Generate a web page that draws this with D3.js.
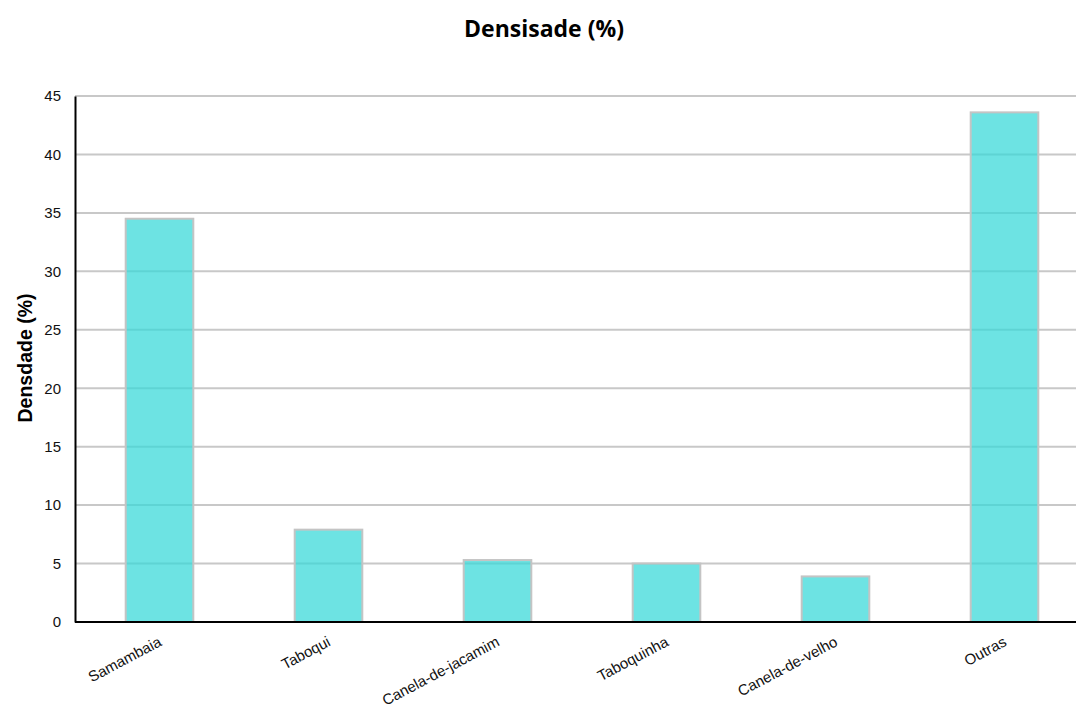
<!DOCTYPE html>
<html><head><meta charset="utf-8">
<script src="https://cdn.jsdelivr.net/npm/d3@7"></script>
<style>body{margin:0;background:#fff;}svg{display:block;}</style>
</head><body>
<svg id="c" width="1076" height="708"></svg>
<script>
const categories = ["Samambaia","Taboqui","Canela-de-jacamim","Taboquinha","Canela-de-velho","Outras"];
const values = [34.5, 7.9, 5.3, 5.0, 3.9, 43.6];
const yTicks = [0,5,10,15,20,25,30,35,40,45];

(function(){
const svg = d3.select("#c");
const mL = 75, mR = 1089, mT = 96, mB = 622;
const x = d3.scaleBand().domain(categories).range([mL, mR]).paddingInner(0.6).paddingOuter(0.3);
const y = d3.scaleLinear().domain([0,45]).range([mB, mT]);

// gridlines
svg.append("g").selectAll("line").data(yTicks.filter(d=>d>0)).join("line")
  .attr("x1", mL).attr("x2", 1076).attr("y1", d=>y(d)).attr("y2", d=>y(d))
  .attr("stroke", "#c8c8c8").attr("stroke-width", 2);

// bars
svg.append("g").selectAll("rect").data(values).join("rect")
  .attr("x", (d,i)=>x(categories[i]))
  .attr("width", x.bandwidth())
  .attr("y", d=>y(d))
  .attr("height", d=>mB - y(d))
  .attr("fill", "rgb(52,216,216)").attr("fill-opacity", 0.72)
  .attr("stroke", "#c4c4c4").attr("stroke-width", 2);

// y axis
const ya = svg.append("g").attr("transform", `translate(${mL},0)`)
  .call(d3.axisLeft(y).tickValues(yTicks).tickSize(0).tickPadding(14));
ya.select(".domain").attr("stroke", "#000").attr("stroke-width", 2);
ya.selectAll("text").attr("font-family", "Liberation Sans, Arial, sans-serif").attr("font-size", 15).attr("fill", "#111");

// x axis
const xa = svg.append("g").attr("transform", `translate(0,${mB})`)
  .call(d3.axisBottom(x).tickSize(0).tickPadding(0));
xa.select(".domain").attr("d", `M${mL},0H1076`).attr("stroke", "#000").attr("stroke-width", 2);
xa.selectAll("text")
  .attr("font-family", "Liberation Sans, Arial, sans-serif").attr("font-size", 15).attr("fill", "#111")
  .attr("text-anchor", "end").attr("dy", null).attr("y", 0)
  .attr("transform", "translate(3,23) rotate(-28)");

// titles
svg.append("text").attr("x", 544).attr("y", 37).attr("text-anchor", "middle")
  .attr("font-family", "Open Sans, sans-serif").attr("font-weight", "bold").attr("font-size", 23)
  .text("Densisade (%)");
svg.append("text").attr("transform", `translate(32,358) rotate(-90)`)
  .attr("text-anchor", "middle")
  .attr("font-family", "Liberation Sans, Arial, sans-serif").attr("font-weight", "bold").attr("font-size", 19.5)
  .text("Densdade (%)");
})();
</script>
</body></html>
